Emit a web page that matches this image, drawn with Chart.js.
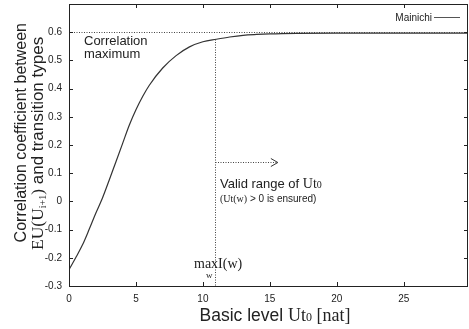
<!DOCTYPE html>
<html>
<head>
<meta charset="utf-8">
<script src="https://cdn.jsdelivr.net/npm/chart.js@4.4.0/dist/chart.umd.min.js"></script>
<style>
  body { margin: 0; background: #fff; }
  #wrap { width: 469px; height: 329px; }
</style>
</head>
<body>
<div id="wrap"><canvas id="chart" width="469" height="329"></canvas></div>
<script>
// basic level Ut0 [nat] and correlation
const basicLevel = [0, 0.5, 1, 1.5, 2, 2.5, 3, 3.5, 4, 4.5, 5, 5.5, 6, 7, 8, 9, 10, 11, 12, 13, 14, 15, 17, 20, 25, 29.8];
const mainichi = [-0.242, -0.2, -0.155, -0.1, -0.042, 0.012, 0.075, 0.14, 0.205, 0.27, 0.325, 0.372, 0.412, 0.473, 0.517, 0.548, 0.566, 0.575, 0.583, 0.589, 0.592, 0.594, 0.596, 0.597, 0.597, 0.597];
const xTicks = [0, 5, 10, 15, 20, 25];
const yTicks = [-0.3, -0.2, -0.1, 0, 0.1, 0.2, 0.3, 0.4, 0.5, 0.6];
const correlationMax = 0.6;
const maxIw = 10.9;       // argmax of I(w)
const arrowEnd = 15.6;
const arrowLevel = 0.14;

const SANS = '"Liberation Sans", Arial, sans-serif';
const SERIF = '"Liberation Serif", "Times New Roman", serif';
const INK = '#222';

// draws a run of text pieces with their own fonts, returns total width
function drawRich(ctx, x, y, parts, measureOnly) {
    let w = 0;
    parts.forEach(p => {
        ctx.font = p.font;
        if (!measureOnly) ctx.fillText(p.t, x + w, y + (p.dy || 0));
        w += ctx.measureText(p.t).width;
    });
    return w;
}

const annotations = {
    id: 'annotations',
    beforeDatasetsDraw(chart) {
        const ctx = chart.ctx;
        const xs = chart.scales.x, ys = chart.scales.y;
        const area = chart.chartArea;
        ctx.save();
        ctx.strokeStyle = '#444';
        ctx.lineWidth = 1;
        ctx.setLineDash([1, 1.5]);
        // correlation maximum
        const yMax = Math.round(ys.getPixelForValue(correlationMax)) + 0.5;
        ctx.beginPath();
        ctx.moveTo(area.left, yMax);
        ctx.lineTo(area.right, yMax);
        ctx.stroke();
        // vertical line at max I(w)
        const xm = Math.round(xs.getPixelForValue(maxIw)) + 0.5;
        const idx = basicLevel.findIndex(v => v > maxIw);
        const t = (maxIw - basicLevel[idx - 1]) / (basicLevel[idx] - basicLevel[idx - 1]);
        const yOnCurve = mainichi[idx - 1] + t * (mainichi[idx] - mainichi[idx - 1]);
        ctx.beginPath();
        ctx.moveTo(xm, ys.getPixelForValue(yOnCurve));
        ctx.lineTo(xm, area.bottom);
        ctx.stroke();
        // arrow for the valid range
        const ya = Math.round(ys.getPixelForValue(arrowLevel)) + 0.5;
        const xe = xs.getPixelForValue(arrowEnd);
        ctx.beginPath();
        ctx.moveTo(xm, ya);
        ctx.lineTo(xe, ya);
        ctx.stroke();
        ctx.setLineDash([]);
        ctx.strokeStyle = '#333';
        ctx.beginPath();
        ctx.moveTo(xe - 7, ya - 4);
        ctx.lineTo(xe, ya);
        ctx.lineTo(xe - 7, ya + 4);
        ctx.stroke();
        ctx.restore();
    },
    afterDraw(chart) {
        const ctx = chart.ctx;
        const xs = chart.scales.x, ys = chart.scales.y;
        const a = chart.chartArea;
        ctx.save();
        // frame
        ctx.strokeStyle = INK;
        ctx.lineWidth = 1;
        ctx.strokeRect(Math.round(a.left) + 0.5, Math.round(a.top) + 0.5,
            Math.round(a.right - a.left) - 1, Math.round(a.bottom - a.top));
        // inward ticks
        ctx.beginPath();
        xTicks.forEach(v => {
            const px = Math.round(xs.getPixelForValue(v)) + 0.5;
            ctx.moveTo(px, a.bottom); ctx.lineTo(px, a.bottom - 4);
            ctx.moveTo(px, a.top); ctx.lineTo(px, a.top + 4);
        });
        yTicks.forEach(v => {
            const py = Math.round(ys.getPixelForValue(v)) + 0.5;
            ctx.moveTo(a.left, py); ctx.lineTo(a.left + 4, py);
            ctx.moveTo(a.right, py); ctx.lineTo(a.right - 4, py);
        });
        ctx.stroke();

        ctx.fillStyle = INK;
        ctx.textBaseline = 'alphabetic';
        ctx.textAlign = 'left';

        // correlation maximum label
        ctx.font = '13px ' + SANS;
        ctx.fillText('Correlation', 84, 45);
        ctx.fillText('maximum', 84, 58);

        // valid range text
        const xm = xs.getPixelForValue(maxIw);
        drawRich(ctx, xm + 5, 188, [
            { t: 'Valid range of ', font: '13px ' + SANS },
            { t: 'Ut', font: '14px ' + SERIF },
            { t: '0', font: '10px ' + SERIF }
        ]);
        drawRich(ctx, xm + 5, 202, [
            { t: '(Ut(w)', font: '10px ' + SERIF },
            { t: ' > 0 is ensured)', font: '10px ' + SANS }
        ]);

        // max I(w)
        ctx.font = '14px ' + SERIF;
        ctx.fillText('max', 194, 268);
        const mw = ctx.measureText('max').width;
        ctx.fillText('I(w)', 194 + mw, 268);
        ctx.font = '9px ' + SERIF;
        ctx.fillText('w', 206, 278);

        // legend
        ctx.font = '10px ' + SANS;
        ctx.textAlign = 'right';
        ctx.fillText('Mainichi', 432, 21);
        ctx.strokeStyle = '#555';
        ctx.beginPath();
        ctx.moveTo(434, 17.5); ctx.lineTo(460, 17.5);
        ctx.stroke();
        ctx.textAlign = 'left';

        // x axis title
        const xParts = [
            { t: 'Basic level ', font: '17.5px ' + SANS },
            { t: 'Ut', font: '18px ' + SERIF },
            { t: '0', font: '12px ' + SERIF },
            { t: ' [nat]', font: '18px ' + SERIF }
        ];
        const xw = drawRich(ctx, 0, 0, xParts, true);
        drawRich(ctx, 275 - xw / 2, 321, xParts);

        // y axis title (rotated)
        const line1 = [{ t: 'Correlation coefficient between', font: '16px ' + SANS }];
        const line2 = [
            { t: 'EU(U', font: '17.5px ' + SERIF },
            { t: 'i+1', font: '10px ' + SERIF, dy: 3 },
            { t: ')', font: '17.5px ' + SERIF },
            { t: ' and transition types', font: '17px ' + SANS }
        ];
        const w1 = drawRich(ctx, 0, 0, line1, true);
        ctx.save();
        ctx.translate(26, 23 + w1);
        ctx.rotate(-Math.PI / 2);
        drawRich(ctx, 0, 0, line1);
        ctx.restore();
        ctx.save();
        ctx.translate(43, 250);
        ctx.rotate(-Math.PI / 2);
        drawRich(ctx, 0, 0, line2);
        ctx.restore();

        ctx.restore();
    }
};

new Chart(document.getElementById('chart'), {
    type: 'line',
    data: {
        datasets: [{
            label: 'Mainichi',
            data: basicLevel.map((x, i) => ({ x: x, y: mainichi[i] })),
            borderColor: '#333',
            borderWidth: 1.2,
            pointRadius: 0,
            fill: false,
            cubicInterpolationMode: 'monotone'
        }]
    },
    plugins: [annotations],
    options: {
        responsive: false,
        animation: false,
        layout: { padding: { top: 4, right: 1, left: 0, bottom: 0 } },
        plugins: { legend: { display: false }, tooltip: { enabled: false } },
        scales: {
            x: {
                type: 'linear',
                min: 0,
                max: 29.8,
                afterFit: s => { s.height = 43; s.paddingLeft = 0; s.paddingRight = 0; },
                grid: { display: false, drawTicks: false },
                border: { display: false },
                ticks: {
                    stepSize: 5,
                    padding: 7,
                    color: INK,
                    font: { family: SANS, size: 10 },
                    maxRotation: 0,
                    callback: v => xTicks.includes(v) ? String(v) : ''
                }
            },
            y: {
                min: -0.3,
                max: 0.7,
                afterFit: s => { s.width = 69; s.paddingTop = 0; s.paddingBottom = 0; },
                grid: { display: false, drawTicks: false },
                border: { display: false },
                ticks: {
                    stepSize: 0.1,
                    padding: 7,
                    color: INK,
                    font: { family: SANS, size: 10 },
                    callback: v => {
                        const r = Math.round(v * 10) / 10;
                        if (r > 0.65) return '';
                        return r === 0 ? '0' : String(r);
                    }
                }
            }
        }
    }
});
</script>
</body>
</html>
